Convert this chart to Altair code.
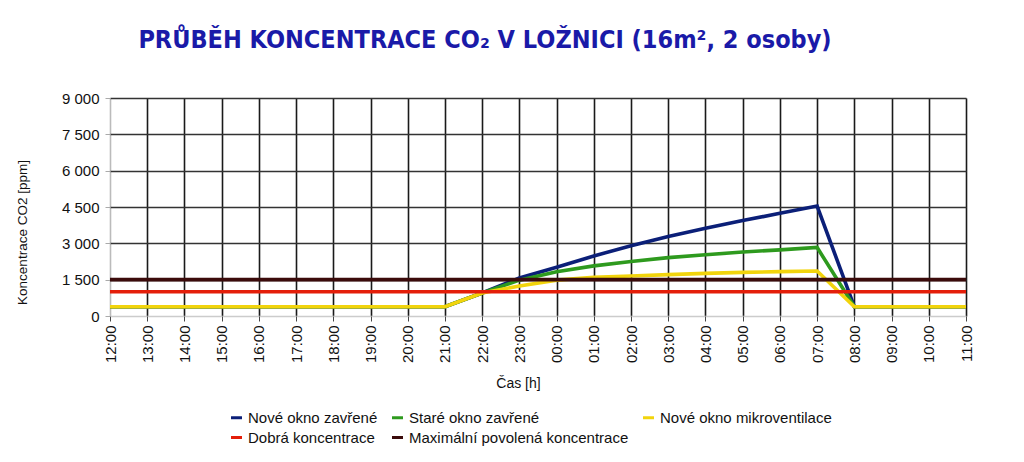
import altair as alt
import pandas as pd

hours = ["12:00", "13:00", "14:00", "15:00", "16:00", "17:00", "18:00", "19:00",
         "20:00", "21:00", "22:00", "23:00", "00:00", "01:00", "02:00", "03:00",
         "04:00", "05:00", "06:00", "07:00", "08:00", "09:00", "10:00", "11:00"]

series_names = ["Nové okno zavřené", "Staré okno zavřené", "Nové okno mikroventilace",
                "Dobrá koncentrace", "Maximální povolená koncentrace"]
series_colors = ["#0b1f78", "#2e9a1e", "#f2d40c", "#e41e0a", "#3b0b0b"]

nove_zavrene = [380, 380, 380, 380, 380, 380, 380, 380, 380, 380, 950, 1570,
                2010, 2480, 2900, 3280, 3620, 3940, 4240, 4540, 380, 380, 380, 380]
stare_zavrene = [380, 380, 380, 380, 380, 380, 380, 380, 380, 380, 950, 1480,
                 1830, 2070, 2250, 2410, 2530, 2640, 2730, 2830, 380, 380, 380, 380]
mikroventilace = [380, 380, 380, 380, 380, 380, 380, 380, 380, 380, 950, 1240,
                  1480, 1600, 1650, 1710, 1760, 1800, 1830, 1860, 380, 380, 380, 380]
dobra = [1000] * 24
maximalni = [1500] * 24

y_ticks = [0, 1500, 3000, 4500, 6000, 7500, 9000]

values = [nove_zavrene, stare_zavrene, mikroventilace, dobra, maximalni]
rows = []
for name, vals in zip(series_names, values):
    for h, v in zip(hours, vals):
        rows.append({"hour": h, "series": name, "value": v})
df = pd.DataFrame(rows)

x_enc = alt.X(
    "hour:N", sort=hours,
    scale=alt.Scale(type="point", padding=0),
    axis=alt.Axis(
        title="Čas [h]", labelAngle=270, labelFontSize=15, labelColor="#111",
        labelFont="Liberation Sans", labelPadding=4,
        tickColor="#444", tickSize=5, domain=False,
        grid=True, gridWidth=1.6,
        gridColor={"condition": {"test": "datum.value === '12:00'", "value": "#bbbbbb"},
                   "value": "#1a1a1a"},
        titleFontSize=14, titleFontWeight="normal", titleColor="#111",
        titleFont="Liberation Sans", titleX=408, titleY=67,
        titleBaseline="middle",
    ),
)
y_enc = alt.Y(
    "value:Q",
    scale=alt.Scale(domain=[0, 9000], nice=False),
    axis=alt.Axis(
        title="Koncentrace CO2 [ppm]", values=y_ticks,
        labelExpr="replace(format(datum.value, ','), ',', ' ')",
        labelFontSize=15, labelColor="#111", labelFont="Liberation Sans",
        labelPadding=6, tickColor="#aaaaaa", tickSize=5, domain=False,
        grid=True, gridWidth=1.6,
        gridColor={"condition": {"test": "datum.value === 0", "value": "#cccccc"},
                   "value": "#333333"},
        titleFontSize=13.5, titleFontWeight="normal", titleColor="#111",
        titleFont="Liberation Sans", titleX=-88, titleY=134, titleAngle=270,
        titleAlign="center", titleBaseline="middle",
    ),
)
color_enc = alt.Color(
    "series:N",
    scale=alt.Scale(domain=series_names, range=series_colors),
    sort=series_names,
    legend=alt.Legend(
        title=None, orient="none", legendX=119, legendY=312, columns=3,
        direction="horizontal", symbolType="stroke", symbolStrokeWidth=3,
        symbolSize=120, labelFontSize=15, labelFont="Liberation Sans",
        labelColor="#111", rowPadding=4, columnPadding=8, labelOffset=4,
        labelLimit=0,
    ),
)

layers = []
for name in series_names:
    layers.append(
        alt.Chart(df).transform_filter(alt.datum.series == name)
        .mark_line(strokeWidth=3.6)
        .encode(x=x_enc, y=y_enc, color=color_enc)
    )

chart = alt.layer(*layers).properties(
    width=856, height=218,
    autosize=alt.AutoSizeParams(type="none"),
    padding={"left": 110, "top": 98, "right": 58, "bottom": 146},
    title=alt.TitleParams(
        text="PRŮBĚH KONCENTRACE CO₂ V LOŽNICI (16m², 2 osoby)",
        fontSize=25,
        font="Liberation Sans Narrow, DejaVu Sans Condensed, Roboto Condensed, Liberation Sans",
        fontWeight="bold",
        color="#1a1aa8", anchor="middle", dx=-53, offset=38,
    ),
).configure_view(stroke=None).configure(background="white")

chart.save("out.html", embed_options={"renderer": "svg", "actions": False})
